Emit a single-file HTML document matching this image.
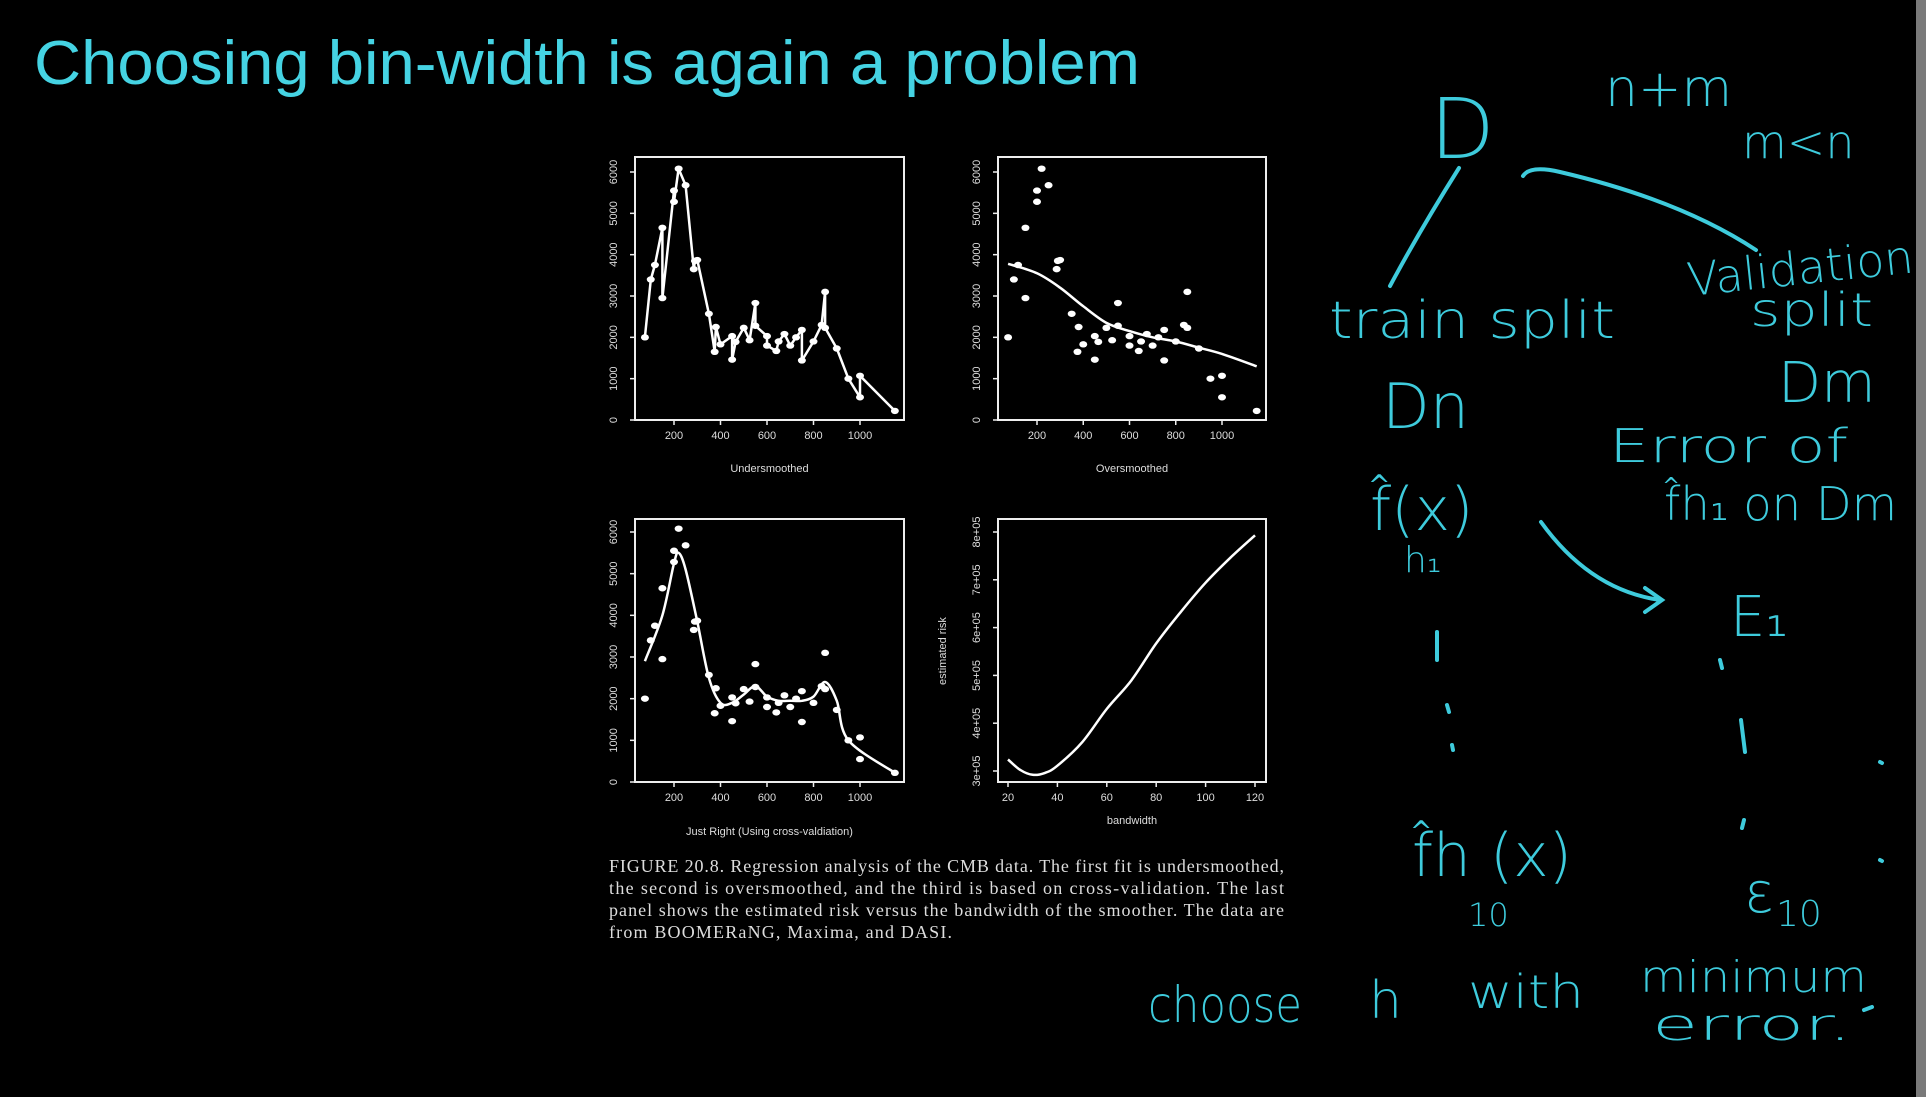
<!DOCTYPE html>
<html><head><meta charset="utf-8"><style>
html,body{margin:0;padding:0;background:#000;}
svg{display:block;}
.hw{font-family:"DejaVu Sans","Liberation Sans",sans-serif;fill:#3ecbdc;font-weight:300;}
.tk{font-family:"Liberation Sans",sans-serif;fill:#ddd;font-size:11px;}
.cap{font-family:"Liberation Serif",serif;fill:#ddd;font-size:18px;}
</style></head><body>
<svg id="root" width="1926" height="1097" viewBox="0 0 1926 1097" xmlns="http://www.w3.org/2000/svg">
<rect x="0" y="0" width="1926" height="1097" fill="#000"/>
<rect x="1916" y="0" width="10" height="1097" fill="#7a7a7a"/>
<text x="34" y="84" font-family="Liberation Sans, sans-serif" font-size="62" fill="#45d3e3" textLength="1106" lengthAdjust="spacingAndGlyphs">Choosing bin-width is again a problem</text>

<g id="charts"></g>

<g>
<text class="cap" x="609" y="872" textLength="675" lengthAdjust="spacing">FIGURE 20.8. Regression analysis of the CMB data. The first fit is undersmoothed,</text>
<text class="cap" x="609" y="894" textLength="675" lengthAdjust="spacing">the second is oversmoothed, and the third is based on cross-validation. The last</text>
<text class="cap" x="609" y="916" textLength="675" lengthAdjust="spacing">panel shows the estimated risk versus the bandwidth of the smoother. The data are</text>
<text class="cap" x="609" y="938" textLength="343" lengthAdjust="spacing">from BOOMERaNG, Maxima, and DASI.</text>
</g>

<g stroke="#3ecbdc" stroke-width="4" fill="none" stroke-linecap="round">
<path d="M1459,168 Q1420,230 1390,286"/>
<path d="M1523,176 Q1530,165 1560,172 Q1680,200 1756,250"/>
<path d="M1541,522 Q1590,590 1660,600 M1645,588 L1662,600 L1645,612"/>
<path d="M1437,632 L1437,660 M1447,705 L1449,712 M1452,745 L1453,750 M1720,660 L1722,668 M1741,720 L1745,752 M1744,820 L1742,828"/>
<path d="M1880,762 L1882,763 M1880,860 L1882,861 M1864,1010 L1872,1007"/>
</g>
<g>
<text class="hw" x="1605" y="106" font-size="52">n+m</text>
<text class="hw" x="1742" y="158" font-size="46">m&lt;n</text>
<text class="hw" x="1430" y="158" font-size="84">D</text>
<text class="hw" x="1329" y="338" font-size="52" textLength="286" lengthAdjust="spacingAndGlyphs">train split</text>
<text class="hw" x="1689" y="296" font-size="46" textLength="227" lengthAdjust="spacingAndGlyphs" transform="rotate(-6 1689 296)">Validation</text>
<text class="hw" x="1750" y="326" font-size="46" textLength="123" lengthAdjust="spacingAndGlyphs">split</text>
<text class="hw" x="1382" y="428" font-size="62">Dn</text>
<text class="hw" x="1778" y="402" font-size="56">Dm</text>
<text class="hw" x="1609" y="462" font-size="46" textLength="239" lengthAdjust="spacingAndGlyphs">Error of</text>
<text class="hw" x="1370" y="530" font-size="60">f̂(x)</text>
<text class="hw" x="1404" y="572" font-size="36">h₁</text>
<text class="hw" x="1664" y="520" font-size="46" textLength="233" lengthAdjust="spacingAndGlyphs">f̂h₁ on Dm</text>
<text class="hw" x="1730" y="636" font-size="56">E₁</text>
<text class="hw" x="1412" y="876" font-size="60" textLength="160" lengthAdjust="spacingAndGlyphs">f̂h (x)</text>
<text class="hw" x="1468" y="926" font-size="32">10</text>
<text class="hw" x="1744" y="912" font-size="56">ε</text>
<text class="hw" x="1776" y="926" font-size="36">10</text>
<text class="hw" x="1148" y="1022" font-size="50" textLength="154" lengthAdjust="spacingAndGlyphs">choose</text>
<text class="hw" x="1369" y="1018" font-size="52">h</text>
<text class="hw" x="1468" y="1008" font-size="46" textLength="116" lengthAdjust="spacingAndGlyphs">with</text>
<text class="hw" x="1640" y="992" font-size="44" textLength="227" lengthAdjust="spacingAndGlyphs">minimum</text>
<text class="hw" x="1652" y="1040" font-size="44" textLength="200" lengthAdjust="spacingAndGlyphs">error.</text>
</g>
</svg>
<script>
// CMB data (x = multipole, y = power)
const dataX = [75,100,118,150,150,200,200,220,250,285,290,300,350,375,380,400,450,450,465,500,525,550,550,600,600,640,650,675,700,725,750,750,800,835,850,850,900,950,1000,1000,1150];
const dataY = [2000,3400,3750,4650,2950,5550,5280,6080,5680,3650,3850,3870,2570,1650,2250,1830,2030,1460,1890,2230,1930,2830,2280,2030,1800,1670,1900,2080,1800,2000,2180,1440,1900,2300,3100,2230,1730,1000,550,1070,220];
// Oversmoothed fit
const overX = [75,200,300,400,500,600,700,800,900,1000,1150];
const overY = [3780,3550,3200,2750,2350,2150,2000,1900,1750,1600,1300];
// Just right fit
const rightX = [75,150,200,220,250,300,350,400,450,500,550,600,650,700,750,800,850,900,950,1150];
const rightY = [2900,4000,5250,5500,5100,3850,2500,1900,1900,2100,2300,2050,1950,1950,1950,2050,2400,1950,1000,220];
// Risk vs bandwidth
const bwX = [20,25,30,35,40,50,60,70,80,90,100,110,120];
const riskY = [324000,302000,292000,296000,311000,360000,430000,490000,567000,633000,694000,746000,793000];
const xTicks = [200,400,600,800,1000];
const yTicks = [0,1000,2000,3000,4000,5000,6000];
const bwTicks = [20,40,60,80,100,120];
const riskTicks = [300000,400000,500000,600000,700000,800000];
const riskLabels = ["3e+05","4e+05","5e+05","6e+05","7e+05","8e+05"];

const NS = "http://www.w3.org/2000/svg";
const root = document.getElementById('charts');
function mk(tag, attrs, parent){const e=document.createElementNS(NS,tag);for(const k in attrs)e.setAttribute(k,attrs[k]);(parent||root).appendChild(e);return e;}
function smoothPath(pts){
  let d='M'+pts[0][0].toFixed(1)+','+pts[0][1].toFixed(1);
  for(let i=0;i<pts.length-1;i++){
    const p0=pts[i-1]||pts[i], p1=pts[i], p2=pts[i+1], p3=pts[i+2]||p2;
    const c1=[p1[0]+(p2[0]-p0[0])/6, p1[1]+(p2[1]-p0[1])/6];
    const c2=[p2[0]-(p3[0]-p1[0])/6, p2[1]-(p3[1]-p1[1])/6];
    d+=` C${c1[0].toFixed(1)},${c1[1].toFixed(1)} ${c2[0].toFixed(1)},${c2[1].toFixed(1)} ${p2[0].toFixed(1)},${p2[1].toFixed(1)}`;
  }
  return d;
}

function panel(p){
  const g = mk('g',{});
  
  
  const box = mk('rect',{x:p.x0,y:p.y0,width:p.x1-p.x0,height:p.y1-p.y0,fill:'none',stroke:'#eee','stroke-width':2},g);
  
  
  const sx = v => p.px0 + (v-p.vx0)*(p.px1-p.px0)/(p.vx1-p.vx0);
  const sy = v => p.py0 + (v-p.vy0)*(p.py1-p.py0)/(p.vy1-p.vy0);
  p.xt.forEach(t=>{
    mk('line',{x1:sx(t),x2:sx(t),y1:p.y1,y2:p.y1+5,stroke:'#eee','stroke-width':1.5},g);
    const tx = mk('text',{x:sx(t),y:p.y1+19,'text-anchor':'middle',class:'tk'},g);
    tx.textContent = t;
    
    
  });
  p.yt.forEach((t,i)=>{
    mk('line',{x1:p.x0,x2:p.x0-5,y1:sy(t),y2:sy(t),stroke:'#eee','stroke-width':1.5},g);
    const tx = mk('text',{x:p.x0-18,y:sy(t),'text-anchor':'middle',class:'tk','font-size':9,transform:`rotate(-90 ${p.x0-18} ${sy(t)})`},g);
    tx.textContent = p.yl ? p.yl[i] : t;
    
    
  });
  const lb = mk('text',{x:(p.x0+p.x1)/2,y:p.labelY,'text-anchor':'middle',class:'tk','font-size':11},g);
  lb.textContent = p.label;
  
  
  if(p.ylabel){
    const yl = mk('text',{x:946,y:651,'text-anchor':'middle',class:'tk','font-size':9,transform:'rotate(-90 946 651)'},g);
    yl.textContent = p.ylabel;
    
    
  }
  if(p.lx){
    const pts = p.lx.map((v,i)=>[sx(v),sy(p.ly[i])]);
    const d = p.smooth ? smoothPath(pts) : pts.map((q,i)=>(i?'L':'M')+q[0].toFixed(1)+','+q[1].toFixed(1)).join(' ');
    const ln = mk('path',{d:d,fill:'none',stroke:'#fff','stroke-width':2.5,'stroke-linejoin':'round'},g);
    
    
  }
  if(p.pts){
    dataX.forEach((v,i)=>{
      const c = mk('ellipse',{cx:sx(v),cy:sy(dataY[i]),rx:4,ry:3.2,fill:'#fff'},g);
      
      
    });
  }
}
panel({name:'panel-undersmoothed',x0:635,x1:904,y0:157,y1:420,px0:674,px1:860,vx0:200,vx1:1000,py0:420,py1:172,vy0:0,vy1:6000,xt:xTicks,yt:yTicks,label:'Undersmoothed',labelY:472,lx:dataX,ly:dataY,pts:true,smooth:false});
panel({name:'panel-oversmoothed',x0:998,x1:1266,y0:157,y1:420,px0:1037,px1:1222,vx0:200,vx1:1000,py0:420,py1:172,vy0:0,vy1:6000,xt:xTicks,yt:yTicks,label:'Oversmoothed',labelY:472,lx:overX,ly:overY,pts:true,smooth:true});
panel({name:'panel-just-right',x0:635,x1:904,y0:519,y1:782,px0:674,px1:860,vx0:200,vx1:1000,py0:782,py1:532,vy0:0,vy1:6000,xt:xTicks,yt:yTicks,label:'Just Right (Using cross-valdiation)',labelY:835,lx:rightX,ly:rightY,pts:true,smooth:true});
panel({name:'panel-risk',x0:998,x1:1266,y0:519,y1:782,px0:1008,px1:1255,vx0:20,vx1:120,py0:771,py1:532,vy0:300000,vy1:800000,xt:bwTicks,yt:riskTicks,yl:riskLabels,label:'bandwidth',labelY:824,lx:bwX,ly:riskY,pts:false,smooth:true,ylabel:'estimated risk'});
</script>
</body></html>
